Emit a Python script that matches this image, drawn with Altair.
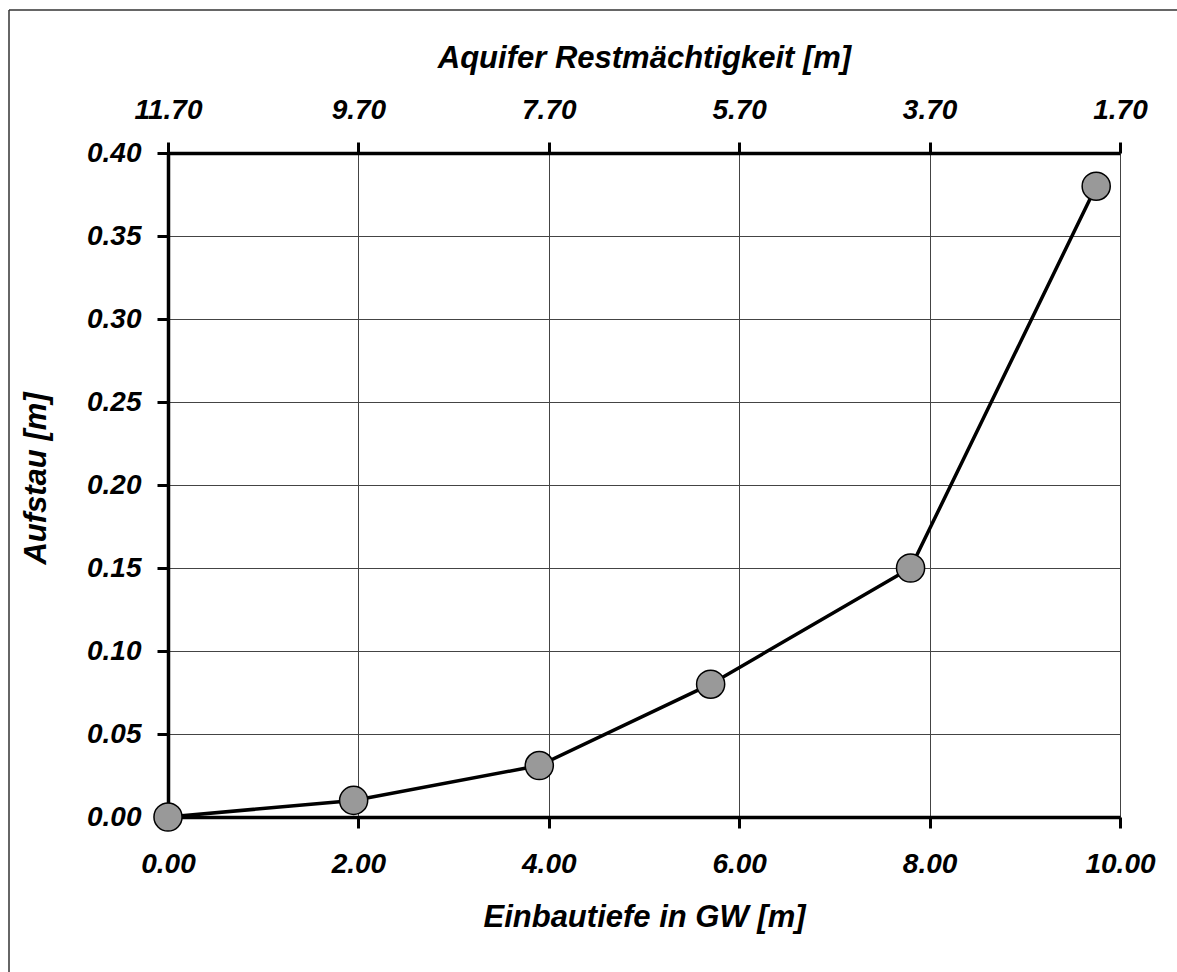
import altair as alt
import pandas as pd

# data
einbautiefe = [0.0, 1.95, 3.9, 5.7, 7.8, 9.75]
aufstau = [0.0, 0.01, 0.031, 0.08, 0.15, 0.38]

x_ticks = [0, 2, 4, 6, 8, 10]
rest_labels = ["11.70", "9.70", "7.70", "5.70", "3.70", "1.70"]
y_ticks = [0.0, 0.05, 0.10, 0.15, 0.20, 0.25, 0.30, 0.35, 0.40]

df = pd.DataFrame({"x": einbautiefe, "y": aufstau})

FONT = "Liberation Sans"
W, H = 952, 664

label_expr = "[" + ",".join("'%s'" % s for s in rest_labels) + "][indexof([" + \
    ",".join(str(v) for v in x_ticks) + "], datum.value)]"

common_axis = dict(
    labelFont=FONT, labelFontSize=28, labelFontWeight="bold", labelFontStyle="italic",
    labelColor="black",
    titleFont=FONT, titleFontSize=31, titleFontWeight="bold", titleFontStyle="italic",
    titleColor="black",
    domainColor="black", domainWidth=3.5, tickColor="black", tickWidth=3, tickSize=11,
    gridColor="#444444", gridWidth=1,
)

xscale = alt.Scale(domain=[0, 10], nice=False, zero=False)
yscale = alt.Scale(domain=[0, 0.4], nice=False)

x_bottom = alt.X("x:Q", scale=xscale, title="Einbautiefe in GW [m]",
                 axis=alt.Axis(orient="bottom", values=x_ticks, format=".2f",
                               labelPadding=22, titlePadding=24, grid=True,
                               labelFlush=False, **common_axis))
y_left = alt.Y("y:Q", scale=yscale, title="Aufstau [m]",
               axis=alt.Axis(orient="left", values=y_ticks, format=".2f",
                             labelPadding=16, titlePadding=34, grid=True,
                             titleY=325, labelFlush=False, **common_axis))

one = pd.DataFrame({"a": [0]})
frame_left = alt.Chart(one).mark_rule(color="#333333", strokeWidth=1.5).encode(
    x=alt.value(-159), y=alt.value(-143), y2=alt.value(H + 300),
)
frame_top = alt.Chart(one).mark_rule(color="#333333", strokeWidth=1.5).encode(
    x=alt.value(-159), x2=alt.value(W + 200), y=alt.value(-143),
)

line = alt.Chart(df).mark_line(color="black", strokeWidth=3.5).encode(x=x_bottom, y=y_left)

points = alt.Chart(df).mark_point(
    filled=True, fill="#999999", stroke="black", strokeWidth=1.5, size=790, opacity=1,
    shape="circle"
).encode(x=alt.X("x:Q", scale=xscale, axis=None), y=y_left)

top = alt.Chart(df).mark_point(opacity=0).encode(
    x=alt.X("x:Q", scale=xscale, title="Aquifer Restmächtigkeit [m]",
            axis=alt.Axis(orient="top", values=x_ticks, labelExpr=label_expr,
                          labelPadding=18, titlePadding=22, grid=False,
                          labelFlush=False, **common_axis)),
    y=y_left,
)

chart = alt.layer(frame_left, frame_top, line, top, points).resolve_axis(x="independent").properties(
    width=W, height=H,
    autosize="none",
    padding={"left": 168, "top": 153, "right": 57, "bottom": 155},
    background="white",
).configure_view(strokeWidth=0)

chart.save("out.html", embed_options={"renderer": "svg", "actions": False})
